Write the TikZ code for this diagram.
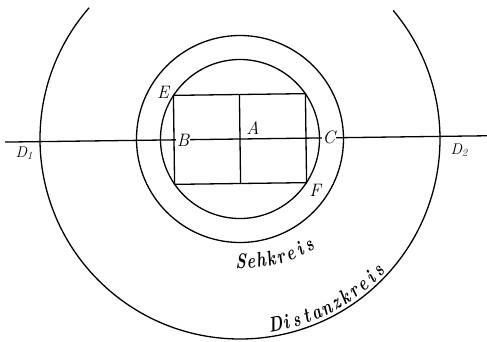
\documentclass[tikz,border=0pt]{standalone}
\usepackage{fontspec}
\newcommand{\subone}[1]{\raisebox{-0.35ex}{\fontsize{11}{12}\selectfont #1}}
\newcommand{\narrow}[1]{\scalebox{0.76}[1]{#1}}
\begin{document}
\begin{tikzpicture}[x=1pt,y=1pt,line width=1.3pt,
  lbl/.style={font=\fontsize{18}{20}\selectfont\itshape\addfontfeatures{FakeBold=0.8},inner sep=1pt},
  wlbl/.style={lbl,fill=white,inner sep=0.5pt},
  dlbl/.style={font=\fontsize{15.5}{18}\selectfont\itshape\addfontfeatures{FakeBold=0.8},inner sep=1pt},
  ctext/.style={font=\fontsize{21}{24}\selectfont\bfseries\itshape\addfontfeatures{FakeBold=1.2},inner sep=0pt,anchor=base}]
\useasboundingbox (-240,-202) rectangle (247,139);
\coordinate (O) at (0,0);
% circles
\draw (O) circle[radius=79.5];
\draw (O) circle[radius=103.5];
\draw (O) ++(139:200) arc[start angle=139,end angle=400,radius=200];
% slightly tilted frame (as in the scan)
\begin{scope}[rotate=0.75]
  \coordinate (E) at (-66,44.5);
  \coordinate (G) at (66,44.5);
  \coordinate (F) at (66,-44.5);
  \coordinate (H) at (-66,-44.5);
  \coordinate (T) at (0,44.5);
  \coordinate (U) at (0,-44.5);
  \coordinate (L) at (-235,0);
  \coordinate (R) at (250,0);
\end{scope}
\draw (E) -- (G) -- (F) -- (H) -- cycle;
\draw (T) -- (U);
\draw (L) -- (R);
% labels
\node[lbl] (lE) at (-77,47) {E};
\node[wlbl] (lB) at (-57,-1) {B};
\node[lbl] (lA) at (13,11) {A};
\node[wlbl] (lC) at (89,2) {C};
\node[lbl] (lF) at (75,-51) {F};
\node[dlbl] (lD1) at (-216,-14) {D\subone{1}};
\node[dlbl] (lD2) at (219,-11) {D\subone{2}};
% curved texts, letter by letter
\foreach \ch [count=\i] in {S,e,h,k,r,e,i,s}{
  \pgfmathsetmacro\ang{-89.6+(\i-1)*32.6/7}
  \pgfmathsetmacro\rad{129+(\i-1)*3.5/7}
  \node[ctext,rotate=\ang+90] (s\i) at (\ang:\rad) {\narrow{\ch}};
}
\foreach \ch [count=\i] in {D,i,s,t,a,n,z,k,r,e,i,s}{
  \pgfmathsetmacro\ang{-79.2+(\i-1)*35.7/11}
  \pgfmathsetmacro\rad{195.5+(\i-1)*1.5/11}
  \node[ctext,rotate=\ang+90] (d\i) at (\ang:\rad) {\narrow{\ch}};
}
\end{tikzpicture}
\end{document}
